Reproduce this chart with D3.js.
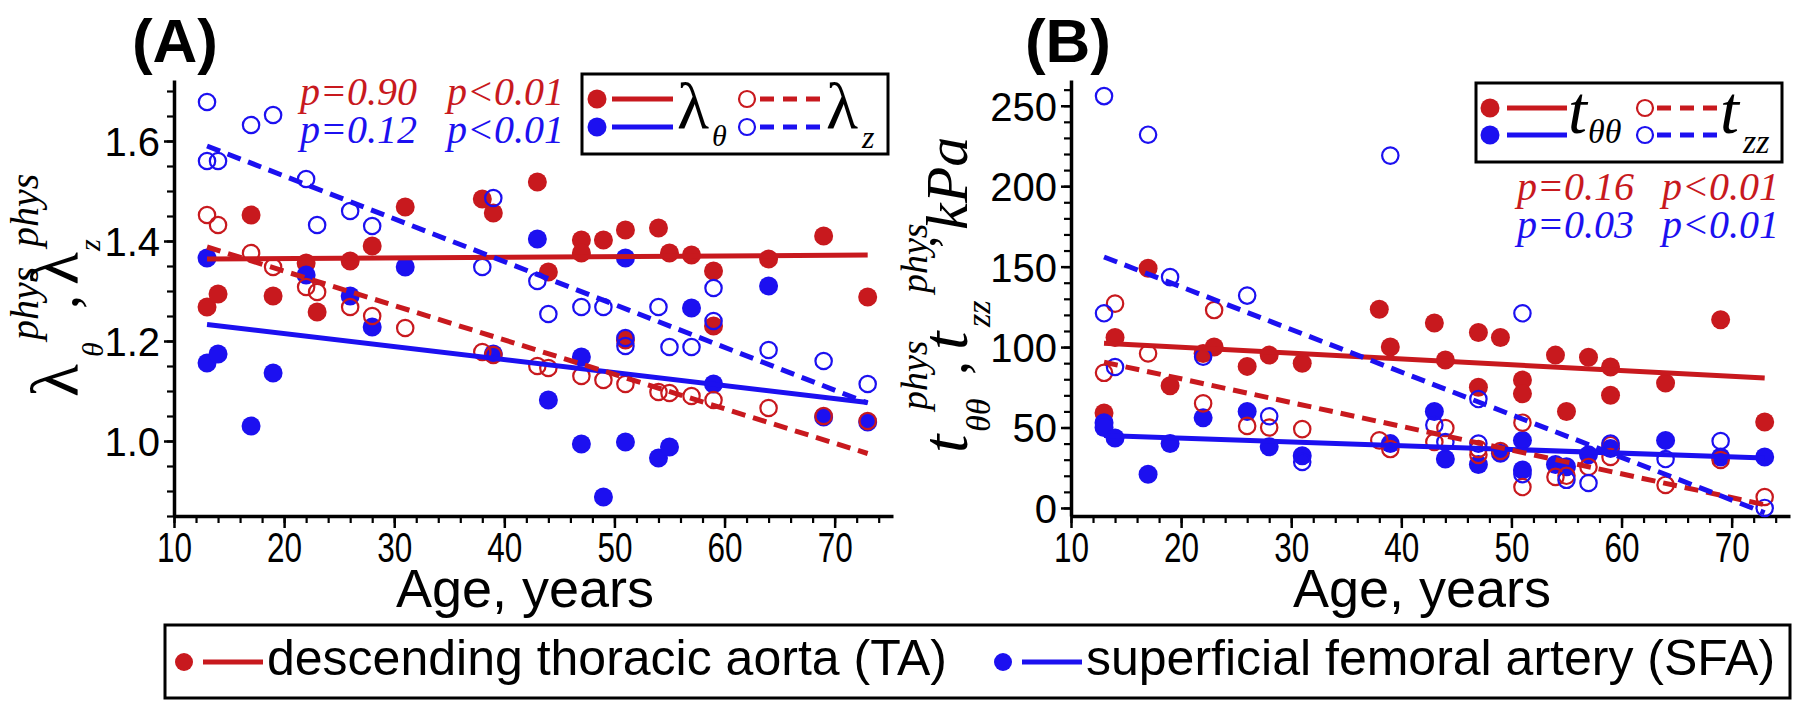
<!DOCTYPE html>
<html>
<head>
<meta charset="utf-8">
<script src="https://cdn.jsdelivr.net/npm/d3@7"></script>
<style>
body { margin: 0; background: #fff; }
text { font-family: "Liberation Sans", Arial, sans-serif; }
.serif { font-family: "Liberation Serif", "Times New Roman", serif; }
</style>
</head>
<body>
<svg id="chart" width="1800" height="709"></svg>
<script>
// ---- data ----
// panel A: stretch ratios [age, value]
var taLamTheta = [[13,1.268],[14,1.294],[17,1.452],[19,1.29],[22,1.356],[23,1.258],[26,1.36],[28,1.39],[31,1.468],
    [38,1.484],[39,1.456],[43,1.518],[44,1.338],[47,1.402],[47,1.376],[49,1.402],[51,1.422],[51,1.202],[54,1.426],
    [55,1.376],[57,1.372],[59,1.34],[59,1.23],[64,1.364],[69,1.41],[73,1.288]];
var sfaLamTheta = [[13,1.366],[13,1.156],[14,1.174],[17,1.03],[19,1.136],[22,1.332],[26,1.29],[28,1.228],[31,1.348],
    [39,1.174],[43,1.404],[44,1.082],[47,1.168],[47,0.994],[49,0.888],[51,1.366],[51,0.998],[54,0.966],[55,0.988],
    [57,1.266],[59,1.114],[64,1.31],[69,1.048],[73,1.038]];
var taLamZ = [[13,1.452],[14,1.432],[17,1.376],[19,1.348],[22,1.308],[23,1.298],[26,1.268],[28,1.25],[31,1.226],
    [38,1.178],[39,1.172],[43,1.15],[44,1.146],[47,1.13],[49,1.122],[51,1.114],[54,1.098],[55,1.096],[57,1.09],
    [59,1.082],[64,1.066],[69,1.05],[73,1.04]];
var sfaLamZ = [[13,1.678],[13,1.56],[14,1.56],[17,1.632],[19,1.652],[22,1.524],[23,1.432],[26,1.46],[28,1.43],
    [38,1.348],[39,1.486],[43,1.32],[44,1.254],[47,1.268],[49,1.268],[51,1.206],[51,1.19],[54,1.268],[55,1.188],
    [57,1.188],[59,1.306],[59,1.24],[64,1.182],[69,1.16],[73,1.114]];

// panel B: stresses, kPa
var taTTheta = [[13,59],[14,106],[17,149],[19,76],[22,96],[23,100],[26,88],[28,95],[31,90],[38,123.5],[39,100],
    [43,115],[44,92],[47,109],[47,75],[49,106],[51,79.5],[51,71],[54,95],[55,60],[57,93.7],[59,87.6],[59,70],
    [64,77.6],[69,117],[73,53.4]];
var sfaTTheta = [[13,53],[13,50],[14,43.5],[17,21],[19,40],[22,56],[26,60],[28,38],[31,32.5],[39,40],[43,60],
    [44,30.4],[47,27],[49,34],[51,42],[51,23.6],[54,27],[55,25.6],[57,33],[59,37],[64,42],[69,31.7],[73,31.7]];
var taTZ = [[13,84],[14,127],[17,96],[22,65],[23,123],[26,51],[28,50],[31,49],[38,42],[39,36.6],[43,41],[44,49.7],
    [47,36.6],[47,33],[49,35.4],[51,53],[51,13],[54,19.3],[55,20],[57,25.5],[59,39],[59,31.7],[64,14.3],[69,29.8],[73,6.8]];
var sfaTZ = [[13,256],[13,121],[14,87.6],[17,232],[19,143.5],[22,94],[26,132],[28,57],[31,28.6],[39,219],[43,51.6],
    [44,41],[47,67.7],[47,40],[51,121],[51,21],[55,17.5],[57,15.5],[59,40],[64,30.4],[69,41.6],[73,0]];

// regression lines, value at first and last age
var fitAges = [13, 73];
var fitTaLamTheta = [1.364, 1.372];
var fitSfaLamTheta = [1.233, 1.077];
var fitTaLamZ = [1.388, 0.975];
var fitSfaLamZ = [1.59, 1.076];
var fitTaTTheta = [102.4, 80.7];
var fitSfaTTheta = [45, 31];
var fitTaTZ = [90.6, 2];
var fitSfaTZ = [156, -3];

var pA = [["p=0.90", "p<0.01"], ["p=0.12", "p<0.01"]];
var pB = [["p=0.16", "p<0.01"], ["p=0.03", "p<0.01"]];

var xTicks = [10, 20, 30, 40, 50, 60, 70];
var yTicksA = [1.0, 1.2, 1.4, 1.6];
var yTicksB = [0, 50, 100, 150, 200, 250];

var RED = "#c8191e", BLUE = "#1c10f0";
var svg = d3.select("#chart");

var xA = d3.scaleLinear().domain([10, 75.3]).range([174, 893]);
var yA = d3.scaleLinear().domain([0.85, 1.722]).range([516, 80]);
var xB = d3.scaleLinear().domain([10, 75.3]).range([1071, 1790]);
var yB = d3.scaleLinear().domain([-5, 266]).range([516, 80]);

function styleAxis(g) {
    g.select(".domain").attr("stroke-width", 3.5);
    g.selectAll(".tick line").attr("stroke-width", 2.5);
}
function minorOnly(g) {
    g.select(".domain").remove();
    g.selectAll(".tick text").remove();
    g.selectAll(".tick line").attr("stroke-width", 2.2);
}

function drawAxes(x, y, yMajor, yMinor, fmt) {
    var bottom = y.range()[0];
    var left = x.range()[0];
    svg.append("g").attr("transform", "translate(0," + bottom + ")")
        .call(d3.axisBottom(x).tickValues(d3.range(5, 38).map(i => i * 2)).tickSize(7))
        .call(minorOnly);
    svg.append("g").attr("transform", "translate(" + left + ",0)")
        .call(d3.axisLeft(y).tickValues(yMinor).tickSize(7))
        .call(minorOnly);

    var gx = svg.append("g").attr("transform", "translate(0," + bottom + ")")
        .call(d3.axisBottom(x).tickValues(xTicks).tickSize(12).tickSizeOuter(0).tickPadding(4));
    styleAxis(gx);
    gx.selectAll(".tick text").attr("y", 46).attr("dy", 0)
        .attr("transform", "scale(0.75,1)")
        .style("font-size", "42px").attr("fill", "#000");

    var gy = svg.append("g").attr("transform", "translate(" + left + ",0)")
        .call(d3.axisLeft(y).tickValues(yMajor).tickSize(10).tickSizeOuter(0).tickPadding(4).tickFormat(fmt));
    styleAxis(gy);
    gy.selectAll(".tick text").style("font-size", "40px").attr("fill", "#000").attr("dy", "0.36em");
}

drawAxes(xA, yA, yTicksA, d3.range(17, 35).map(i => i * 0.05), d3.format(".1f"));
drawAxes(xB, yB, yTicksB, d3.range(0, 27).map(i => i * 10), d3.format("d"));

function dots(data, x, y, color, filled) {
    svg.append("g").selectAll("circle").data(data).enter().append("circle")
        .attr("cx", d => x(d[0])).attr("cy", d => y(d[1]))
        .attr("r", filled ? 9.5 : 8.2)
        .attr("fill", filled ? color : "none")
        .attr("stroke", filled ? "none" : color)
        .attr("stroke-width", 2.2);
}

function fit(vals, x, y, color, dashed) {
    var line = d3.line().x(d => x(d[0])).y(d => y(d[1]));
    svg.append("path").datum(fitAges.map((a, i) => [a, vals[i]]))
        .attr("d", line).attr("fill", "none").attr("stroke", color)
        .attr("stroke-width", 5).attr("stroke-dasharray", dashed ? "14,8" : null);
}

dots(taLamTheta, xA, yA, RED, true);
dots(sfaLamTheta, xA, yA, BLUE, true);
dots(taLamZ, xA, yA, RED, false);
dots(sfaLamZ, xA, yA, BLUE, false);
fit(fitTaLamTheta, xA, yA, RED, false);
fit(fitSfaLamTheta, xA, yA, BLUE, false);
fit(fitTaLamZ, xA, yA, RED, true);
fit(fitSfaLamZ, xA, yA, BLUE, true);

dots(taTTheta, xB, yB, RED, true);
dots(sfaTTheta, xB, yB, BLUE, true);
dots(taTZ, xB, yB, RED, false);
dots(sfaTZ, xB, yB, BLUE, false);
fit(fitTaTTheta, xB, yB, RED, false);
fit(fitSfaTTheta, xB, yB, BLUE, false);
fit(fitTaTZ, xB, yB, RED, true);
fit(fitSfaTZ, xB, yB, BLUE, true);

// panel letters
svg.append("text").attr("x", 175).attr("y", 62).attr("text-anchor", "middle")
    .style("font-size", "62px").style("font-weight", "bold").text("(A)");
svg.append("text").attr("x", 1068).attr("y", 62).attr("text-anchor", "middle")
    .style("font-size", "62px").style("font-weight", "bold").text("(B)");

// x titles
[[525, "Age, years"], [1422, "Age, years"]].forEach(function (t) {
    svg.append("text").attr("x", t[0]).attr("y", 607).attr("text-anchor", "middle")
        .style("font-size", "54px").text(t[1]);
});

// p values
function pvals(rows, x1, x2, y1, y2) {
    [[rows[0], RED, y1], [rows[1], BLUE, y2]].forEach(function (r) {
        [x1, x2].forEach(function (xx, j) {
            svg.append("text").attr("class", "serif").attr("x", xx).attr("y", r[2])
                .style("font-size", "40px").style("font-style", "italic")
                .attr("fill", r[1]).text(r[0][j]);
        });
    });
}
pvals(pA, 300, 447, 105, 143);
pvals(pB, 1517, 1662, 200, 238);

// rotated y titles built from pieces: [text, along, across, size, italic]
function rotLabel(bx, by, pieces) {
    var g = svg.append("g").attr("transform", "translate(" + bx + "," + by + ") rotate(-90)");
    pieces.forEach(function (p) {
        g.append("text").attr("class", "serif").attr("x", p[1]).attr("y", p[2])
            .style("font-size", p[3] + "px").style("font-style", p[4] ? "italic" : "normal").text(p[0]);
    });
}
rotLabel(78, 397, [
    ["λ", 0, 0, 68, false], ["θ", 40, 25, 30, true], ["phys", 57, -40, 40, true],
    [",", 88, 0, 56, false],
    ["λ", 112, 0, 68, false], ["z", 146, 22, 30, true], ["phys", 150, -40, 40, true]
]);
rotLabel(967, 453, [
    ["t", 0, 0, 66, true], ["θθ", 21, 23, 34, true], ["phys", 43, -40, 38, true],
    [",", 78, 0, 56, false],
    ["t", 103, 0, 66, true], ["zz", 126, 23, 34, true], ["phys", 160, -40, 38, true],
    [",", 205, -32, 50, false], ["kPa", 223, 0, 60, true]
]);

// legends in panels
function legendBox(x, y, w, h) {
    svg.append("rect").attr("x", x).attr("y", y).attr("width", w).attr("height", h)
        .attr("fill", "#fff").attr("stroke", "#000").attr("stroke-width", 3);
}
function legendRows(rowY, dotX, lineX1, lineX2, openX, dashX1, dashX2) {
    [RED, BLUE].forEach(function (c, i) {
        var yy = rowY[i];
        svg.append("circle").attr("cx", dotX).attr("cy", yy).attr("r", 9.5).attr("fill", c);
        svg.append("line").attr("x1", lineX1).attr("x2", lineX2).attr("y1", yy).attr("y2", yy)
            .attr("stroke", c).attr("stroke-width", 5);
        svg.append("circle").attr("cx", openX).attr("cy", yy).attr("r", 8).attr("fill", "none")
            .attr("stroke", c).attr("stroke-width", 2.2);
        svg.append("line").attr("x1", dashX1).attr("x2", dashX2).attr("y1", yy).attr("y2", yy)
            .attr("stroke", c).attr("stroke-width", 5).attr("stroke-dasharray", "14,9");
    });
}
function sym(x, y, t, size, italic) {
    svg.append("text").attr("class", "serif").attr("x", x).attr("y", y)
        .style("font-size", size + "px").style("font-style", italic ? "italic" : "normal").text(t);
}

legendBox(582, 74, 306, 80);
legendRows([99, 127], 597, 612, 673, 747, 760, 822);
sym(677, 128, "λ", 66, false); sym(712, 146, "θ", 30, true);
sym(826, 128, "λ", 66, false); sym(862, 148, "z", 32, true);

legendBox(1476, 83, 306, 79);
legendRows([108, 135], 1490, 1507, 1567, 1645, 1657, 1720);
sym(1568, 133, "t", 68, true); sym(1588, 143, "θθ", 34, true);
sym(1720, 133, "t", 68, true); sym(1743, 153, "zz", 34, true);

// bottom legend
legendBox(165, 625, 1625, 73);
[[RED, 184, "descending thoracic aorta (TA)"], [BLUE, 1003, "superficial femoral artery (SFA)"]].forEach(function (l) {
    svg.append("circle").attr("cx", l[1]).attr("cy", 662).attr("r", 9).attr("fill", l[0]);
    svg.append("line").attr("x1", l[1] + 19).attr("x2", l[1] + 79).attr("y1", 662).attr("y2", 662)
        .attr("stroke", l[0]).attr("stroke-width", 5);
    svg.append("text").attr("x", l[1] + 83).attr("y", 675).style("font-size", "50px").text(l[2]);
});
</script>
</body>
</html>
